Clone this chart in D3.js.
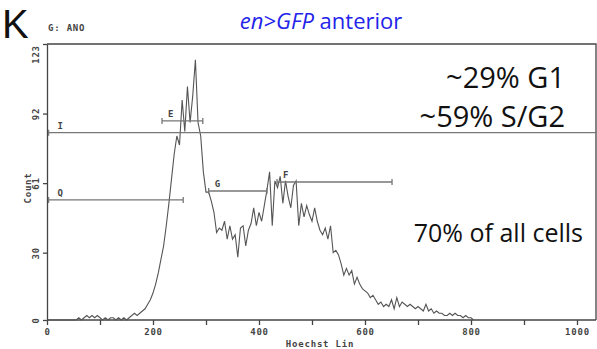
<!DOCTYPE html>
<html>
<head>
<meta charset="utf-8">
<script src="https://cdn.jsdelivr.net/npm/d3@7"></script>
<style>
    body { margin: 0; background: #fff; }
    svg { display: block; }
    .axis-text { font-family: 'DejaVu Sans Mono', monospace; font-weight: bold; font-size: 9px; letter-spacing: 0.8px; fill: #444; }
    .note { font-family: 'Open Sans', 'Noto Sans', sans-serif; fill: #111; }
</style>
</head>
<body>
<svg id="chart"></svg>
<script>
// Histogram counts, one value every 5 channels starting at channel 0
const binWidth = 5;
const counts = [
    0, 0, 0, 0, 0, 0, 0, 0, 0, 0, 0, 0,
    1, 0, 1, 2, 1, 2, 1, 2, 1, 0, 1, 0, 1, 1, 0, 1, 0, 1, 0, 1, 2, 3, 2, 3, 4, 5, 7, 9,
    12, 16, 21, 27, 33, 42, 52, 63, 74, 82, 78,
    98, 84, 104, 88, 100, 116, 88, 82, 66, 57,
    57, 53, 48, 39, 41, 40, 44, 36, 42, 36, 38, 28, 41, 42, 33, 40, 43, 50, 42, 48, 44, 51, 58, 66,
    42, 62, 59, 64, 52, 62, 55, 50, 60, 62, 42, 52, 46, 51, 47, 44, 50, 44, 40, 38, 41, 36, 42, 30,
    31, 29, 25, 20, 23, 20, 22, 16, 19, 16, 14, 13, 12, 10, 11, 9, 7, 8, 6, 7, 6, 9, 5, 10, 6, 8,
    7, 6, 7, 6, 5, 6, 5, 4, 7, 4, 5, 3, 4, 3, 3, 2, 2, 3, 2, 3, 2, 2, 1, 2, 1, 1,
    0
];

// Gates drawn over the histogram
const gateNames = ['I', 'Q', 'E', 'G', 'F'];
const gateStart = [3, 3, 217, 305, 434];
const gateEnd = [1045, 257, 294, 415, 651];
const gateLevel = [83.5, 53.5, 88.7, 57.5, 61.5];

// Axis ticks
const xTicks = [0, 200, 400, 600, 800, 1000];
const xMinorTicks = [100, 300, 500, 700, 900];
const yTicks = [0, 30, 61, 92, 123];

// Annotations
const phaseLines = ['~29% G1', '~59% S/G2'];
const fractionNote = '70% of all cells';

const config = {
    containerWidth: 597,
    containerHeight: 349,
    margin: { top: 44, right: 1, bottom: 29, left: 47 }
};

const width = config.containerWidth - config.margin.left - config.margin.right;
const height = config.containerHeight - config.margin.top - config.margin.bottom;

const svg = d3.select('#chart')
    .attr('width', config.containerWidth)
    .attr('height', config.containerHeight);

const chartArea = svg.append('g')
    .attr('transform', `translate(${config.margin.left},${config.margin.top})`);

// 1000 channels span 530px, the frame runs a bit further right
const xScale = d3.scaleLinear().domain([0, 1000]).range([0, 530]);
const yScale = d3.scaleLinear().domain([0, 123]).range([height, 0]);

// Frame: top and right border
chartArea.append('path')
    .attr('d', `M0,0H${width}V${height}`)
    .attr('fill', 'none')
    .attr('stroke', '#444')
    .attr('stroke-width', 1.3);

// x axis
const xAxis = d3.axisBottom(xScale)
    .tickValues(xTicks.concat(xMinorTicks))
    .tickSize(5)
    .tickPadding(4)
    .tickFormat(d => xTicks.includes(d) ? d : '');

const xAxisG = chartArea.append('g')
    .attr('transform', `translate(0,${height})`)
    .call(xAxis);
xAxisG.select('.domain').attr('d', `M0,0H${width}`);
xAxisG.selectAll('line, .domain').attr('stroke', '#444').attr('stroke-width', 1.3);
xAxisG.selectAll('text').attr('class', 'axis-text').attr('font-size', null).attr('font-family', null);

// y axis with rotated labels
const yAxis = d3.axisLeft(yScale)
    .tickValues(yTicks)
    .tickSize(4)
    .tickSizeOuter(0);

const yAxisG = chartArea.append('g').call(yAxis);
yAxisG.selectAll('line, .domain').attr('stroke', '#444').attr('stroke-width', 1.3);
yAxisG.selectAll('text')
    .attr('class', 'axis-text')
    .attr('font-size', null).attr('font-family', null)
    .attr('x', null).attr('dy', null)
    .attr('text-anchor', 'middle')
    .attr('transform', d => `translate(-8,${d === 123 ? 10 : 0}) rotate(-90)`);

// Axis titles
svg.append('text')
    .attr('class', 'axis-text')
    .attr('x', config.margin.left + 273)
    .attr('y', 347)
    .attr('text-anchor', 'middle')
    .text('Hoechst Lin');

svg.append('text')
    .attr('class', 'axis-text')
    .attr('transform', 'translate(31,188) rotate(-90)')
    .attr('text-anchor', 'middle')
    .text('Count');

svg.append('text')
    .attr('class', 'axis-text')
    .attr('x', 48)
    .attr('y', 31)
    .text('G: ANO');

// Histogram trace
const line = d3.line()
    .x((d, i) => xScale(i * binWidth))
    .y(d => yScale(d));

chartArea.append('path')
    .datum(counts)
    .attr('d', line)
    .attr('fill', 'none')
    .attr('stroke', '#555')
    .attr('stroke-width', 1.1);

// Gate markers
const gates = gateNames.map((name, i) => ({
    name, start: gateStart[i], end: gateEnd[i], level: gateLevel[i]
}));

const gateG = chartArea.selectAll('.gate')
    .data(gates)
    .join('g')
    .attr('class', 'gate')
    .attr('transform', d => `translate(0,${yScale(d.level)})`);

gateG.append('path')
    .attr('d', d => {
        const x0 = xScale(d.start), x1 = xScale(d.end);
        return `M${x0},-3V3M${x0},0H${x1}M${x1},-3V3`;
    })
    .attr('fill', 'none')
    .attr('stroke', '#777')
    .attr('stroke-width', 1.3);

gateG.append('text')
    .attr('class', 'axis-text')
    .attr('x', d => xScale(d.start) + (d.start < 10 ? 9 : 6))
    .attr('y', -4)
    .attr('font-size', '8px')
    .text(d => d.name);

// Panel letter and title
svg.append('text')
    .attr('x', 2)
    .attr('y', 38)
    .attr('font-family', "'Liberation Sans', sans-serif")
    .attr('font-size', '40px')
    .attr('fill', '#111')
    .text('K');

const title = svg.append('text')
    .attr('class', 'note')
    .attr('x', 321)
    .attr('y', 29)
    .attr('text-anchor', 'middle')
    .attr('font-size', '22px')
    .style('fill', '#2323ea');
title.append('tspan').attr('font-style', 'italic').text('en>GFP');
title.append('tspan').text(' anterior');

svg.selectAll('.phase')
    .data(phaseLines)
    .join('text')
    .attr('class', 'note phase')
    .attr('x', 565)
    .attr('y', (d, i) => 88 + i * 39)
    .attr('text-anchor', 'end')
    .attr('font-size', '29px')
    .text(d => d);

svg.append('text')
    .attr('class', 'note')
    .attr('x', 583)
    .attr('y', 242)
    .attr('text-anchor', 'end')
    .attr('font-size', '25px')
    .text(fractionNote);
</script>
</body>
</html>
